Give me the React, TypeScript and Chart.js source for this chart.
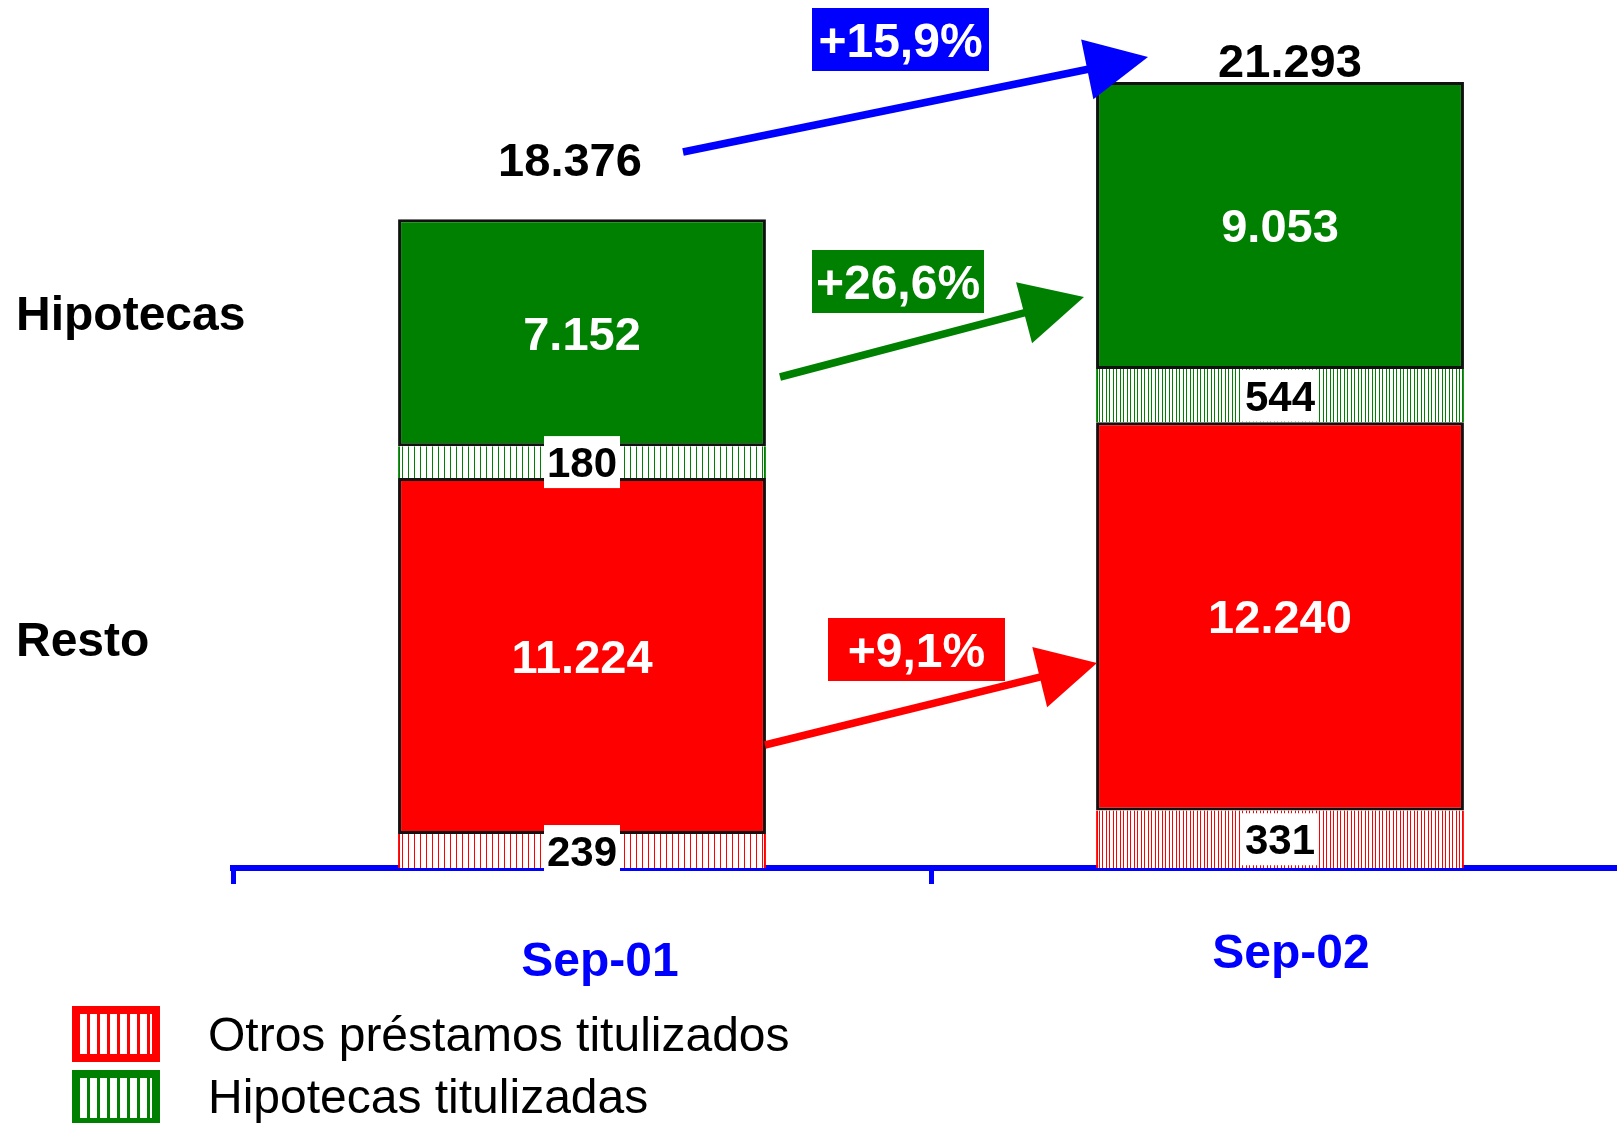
import React, { useEffect, useRef } from "react";
import { Chart, registerables } from "chart.js";

Chart.register(...registerables);

// ---------- data ----------
const categories = ["Sep-01", "Sep-02"];
const restoValues = [11224, 12240];
const hipotecasValues = [7152, 9053];
const otrosTitulizadosValues = [239, 331];
const hipotecasTitulizadasValues = [180, 544];
// the securitised slices are drawn with a fixed (not to scale) height in the original
const otrosTitulizadosDrawn = [1070, 1813];
const hipotecasTitulizadasDrawn = [1005, 1675];
const sideLabels = ["Hipotecas", "Resto"];
const legendLabels = ["Otros préstamos titulizados", "Hipotecas titulizadas"];
const yMax = 25000;

// ---------- styles / layout ----------
const RED = "#ff0000";
const GREEN = "#008000";
const BLUE = "#0000ff";
const FONT = "'Liberation Sans', Arial, Helvetica, sans-serif";
const CANVAS_W = 1640;
const CANVAS_H = 1123;
const totalOffsets = [
  { dx: -12, dy: -60 },
  { dx: 10, dy: -22 },
];
const catLabelPos = [
  { dx: 18, y: 959 },
  { dx: 11, y: 951 },
];
const sideLabelY = [313, 639];
const arrows = [
  { x1: 683, y1: 152, x2: 1148, y2: 57, color: BLUE, hl: 62, hw: 61 },
  { x1: 780, y1: 377, x2: 1084, y2: 297, color: GREEN, hl: 62, hw: 63 },
  { x1: 765, y1: 745, x2: 1097, y2: 663, color: RED, hl: 59, hw: 62 },
];
const pctBoxes = [
  { x: 812, y: 8, w: 177, h: 63, color: BLUE },
  { x: 812, y: 250, w: 172, h: 63, color: GREEN },
  { x: 828, y: 618, w: 177, h: 63, color: RED },
];

const fmt = (n: number) => String(n).replace(/\B(?=(\d{3})+(?!\d))/g, ".");
const pct = (a: number, b: number) =>
  "+" + ((b / a - 1) * 100).toFixed(1).replace(".", ",") + "%";

function makeHatch(color: string, period: number, lines: number[], lw: number) {
  const c = document.createElement("canvas");
  c.width = period;
  c.height = 4;
  const g = c.getContext("2d")!;
  g.fillStyle = "#ffffff";
  g.fillRect(0, 0, period, 4);
  g.fillStyle = color;
  lines.forEach((x) => g.fillRect(x, 0, lw, 4));
  return g.createPattern(c, "repeat")!;
}

function capText(
  ctx: CanvasRenderingContext2D,
  text: string,
  x: number,
  capCenterY: number,
  size: number,
  bold: boolean,
  color: string,
  align: CanvasTextAlign = "center"
) {
  ctx.font = `${bold ? "bold " : ""}${size}px ${FONT}`;
  ctx.fillStyle = color;
  ctx.textAlign = align;
  ctx.textBaseline = "alphabetic";
  ctx.fillText(text, x, capCenterY + (size * 0.716) / 2);
}

function drawArrow(ctx: CanvasRenderingContext2D, a: any) {
  const ang = Math.atan2(a.y2 - a.y1, a.x2 - a.x1);
  const bx = a.x2 - a.hl * Math.cos(ang);
  const by = a.y2 - a.hl * Math.sin(ang);
  ctx.save();
  ctx.strokeStyle = a.color;
  ctx.lineWidth = 7.5;
  ctx.lineCap = "butt";
  ctx.beginPath();
  ctx.moveTo(a.x1, a.y1);
  ctx.lineTo(bx + 2 * Math.cos(ang), by + 2 * Math.sin(ang));
  ctx.stroke();
  const px = (-Math.sin(ang) * a.hw) / 2;
  const py = (Math.cos(ang) * a.hw) / 2;
  ctx.fillStyle = a.color;
  ctx.beginPath();
  ctx.moveTo(a.x2, a.y2);
  ctx.lineTo(bx + px, by + py);
  ctx.lineTo(bx - px, by - py);
  ctx.closePath();
  ctx.fill();
  ctx.restore();
}

function legendBox(ctx: CanvasRenderingContext2D, x: number, y: number, color: string) {
  ctx.fillStyle = color;
  ctx.fillRect(x, y, 88, 56);
  ctx.fillStyle = "#ffffff";
  ctx.fillRect(x + 8, y + 8, 72, 40);
  ctx.fillStyle = color;
  for (let lx = x + 15; lx < x + 80; lx += 10) ctx.fillRect(lx, y + 8, 3, 40);
}

const overlayPlugin = {
  id: "overlay",
  afterDraw(chart: any) {
    const ctx: CanvasRenderingContext2D = chart.ctx;
    const xs = chart.scales.x;
    ctx.save();

    const smallLabels = [otrosTitulizadosValues, null, hipotecasTitulizadasValues, null];
    const bigLabels = [null, restoValues, null, hipotecasValues];
    for (let d = 0; d < 4; d++) {
      const meta = chart.getDatasetMeta(d);
      meta.data.forEach((el: any, i: number) => {
        const cy = (el.y + el.base) / 2;
        const big = bigLabels[d];
        const small = smallLabels[d];
        if (big) capText(ctx, fmt(big[i]), el.x, cy, 47, true, "#ffffff");
        if (small) {
          ctx.fillStyle = "#ffffff";
          ctx.fillRect(el.x - 38, cy - 26, 76, 52);
          capText(ctx, fmt(small[i]), el.x, cy, 42, true, "#000000");
        }
      });
    }

    // totals
    const topMeta = chart.getDatasetMeta(3);
    topMeta.data.forEach((el: any, i: number) => {
      const total = restoValues[i] + hipotecasValues[i];
      capText(ctx, fmt(total), el.x + totalOffsets[i].dx, el.y + totalOffsets[i].dy, 47, true, "#000000");
    });

    // arrows
    arrows.forEach((a) => drawArrow(ctx, a));

    // percentage boxes
    const pcts = [
      pct(restoValues[0] + hipotecasValues[0], restoValues[1] + hipotecasValues[1]),
      pct(hipotecasValues[0], hipotecasValues[1]),
      pct(restoValues[0], restoValues[1]),
    ];
    pctBoxes.forEach((b, i) => {
      ctx.fillStyle = b.color;
      ctx.fillRect(b.x, b.y, b.w, b.h);
      capText(ctx, pcts[i], b.x + b.w / 2, b.y + b.h / 2, 48, true, "#ffffff");
    });

    // side labels
    sideLabels.forEach((t, i) => capText(ctx, t, 16, sideLabelY[i], 48, true, "#000000", "left"));

    // category labels
    categories.forEach((c, i) => {
      capText(ctx, c, xs.getPixelForValue(i) + catLabelPos[i].dx, catLabelPos[i].y, 48, true, BLUE);
    });

    // legend
    legendBox(ctx, 72, 1006, RED);
    legendBox(ctx, 72, 1070, GREEN);
    capText(ctx, legendLabels[0], 208, 1034, 48, false, "#000000", "left");
    capText(ctx, legendLabels[1], 208, 1096, 48, false, "#000000", "left");

    ctx.restore();
  },
};

export default function App() {
  const ref = useRef<HTMLCanvasElement | null>(null);

  useEffect(() => {
    if (!ref.current) return;
    Chart.defaults.font.family = FONT;
    const redHatch = [makeHatch(RED, 6, [0], 1), makeHatch(RED, 7, [0, 3], 1)];
    const greenHatch = [makeHatch(GREEN, 6, [0], 1), makeHatch(GREEN, 7, [0, 3], 1)];
    const chart = new Chart(ref.current, {
      type: "bar",
      data: {
        labels: categories,
        datasets: [
          {
            label: legendLabels[0],
            data: otrosTitulizadosDrawn,
            backgroundColor: redHatch as any,
            borderColor: RED,
            borderWidth: { left: 2, right: 2, top: 0, bottom: 0 } as any,
            borderSkipped: false,
          },
          {
            label: sideLabels[1],
            data: restoValues,
            backgroundColor: RED,
            borderColor: "#111111",
            borderWidth: 3,
            borderSkipped: false,
          },
          {
            label: legendLabels[1],
            data: hipotecasTitulizadasDrawn,
            backgroundColor: greenHatch as any,
            borderColor: GREEN,
            borderWidth: { left: 2, right: 2, top: 0, bottom: 0 } as any,
            borderSkipped: false,
          },
          {
            label: sideLabels[0],
            data: hipotecasValues,
            backgroundColor: GREEN,
            borderColor: "#111111",
            borderWidth: 3,
            borderSkipped: false,
          },
        ],
      },
      options: {
        responsive: false,
        animation: false,
        devicePixelRatio: 1,
        layout: { padding: { left: 233, right: 11, top: 75, bottom: 0 } },
        plugins: { legend: { display: false }, tooltip: { enabled: false } },
        datasets: { bar: { categoryPercentage: 1, barPercentage: 0.527 } },
        scales: {
          x: {
            stacked: true,
            offset: true,
            grid: {
              offset: true,
              drawOnChartArea: false,
              drawTicks: true,
              tickLength: 16,
              color: BLUE,
              lineWidth: 5,
            },
            border: { display: true, color: BLUE, width: 6 },
            ticks: { display: false },
            afterFit: (s: any) => {
              s.height = CANVAS_H - 868;
            },
          },
          y: { stacked: true, display: false, min: 0, max: yMax },
        },
      } as any,
      plugins: [overlayPlugin],
    });
    return () => chart.destroy();
  }, []);

  return (
    <div
      style={{
        position: "absolute",
        left: 0,
        top: 0,
        width: 1617,
        height: 1123,
        overflow: "hidden",
        background: "#ffffff",
      }}
    >
      <canvas
        ref={ref}
        width={CANVAS_W}
        height={CANVAS_H}
        style={{ display: "block", width: CANVAS_W, height: CANVAS_H }}
      />
    </div>
  );
}
